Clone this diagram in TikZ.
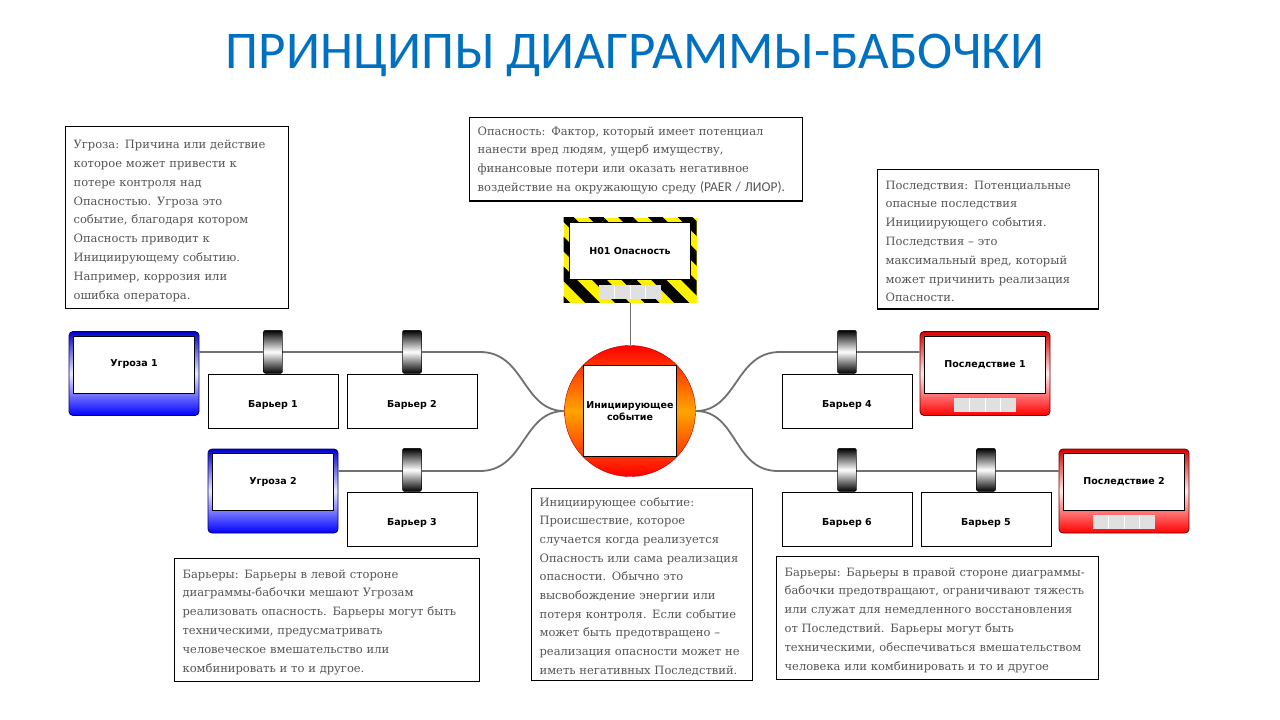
\documentclass[tikz,border=0pt]{standalone}
\usepackage{fontspec}
\setmainfont{DejaVu Serif}
\setsansfont{DejaVu Sans}
\newfontfamily\titlefont{Carlito}
\usetikzlibrary{positioning, calc, patterns.meta}

\definecolor{titleblue}{HTML}{0070C0}
\definecolor{linkgray}{HTML}{707070}
\definecolor{notegray}{HTML}{555555}
\definecolor{evorange}{HTML}{FFA500}

\begin{document}
\begin{tikzpicture}[
    x=1pt, y=-1pt,
    note/.style={draw, line width=1.2pt, fill=white, anchor=north west, align=left,
      inner xsep=8pt, inner ysep=7pt, text=notegray,
      font=\fontsize{11.5}{18.8}\selectfont, execute at begin node={\rule{0pt}{#1}}},
    note/.default=12.5pt,
    boxtext/.style={font=\sffamily\bfseries\fontsize{9.5}{12}\selectfont, align=center},
    tilebox/.style={rounded corners=4pt, minimum width=130pt, minimum height=84pt, line width=0.8pt},
    threat/.style={tilebox, draw=blue!40!black, top color=blue!80!black, bottom color=blue, middle color=blue!8},
    conseq/.style={tilebox, draw=red!40!black, top color=red!85!black, bottom color=red, middle color=red!8},
    hazard/.style={minimum width=133pt, minimum height=85pt, fill=yellow,
      postaction={pattern={Lines[angle=-45, distance=21pt, line width=10.5pt]}, pattern color=black}},
    inbox/.style={boxtext, draw, line width=0.8pt, fill=white, minimum width=121pt, minimum height=57pt, inner sep=0pt},
    barrier/.style={boxtext, draw, line width=0.8pt, fill=white, minimum width=130pt, minimum height=54pt,
      text height=12pt, text depth=0pt},
    barrel/.style={draw, line width=0.5pt, rounded corners=2pt, minimum width=19pt, minimum height=43pt,
      inner sep=0pt, top color=black, bottom color=black, middle color=white},
    cellrow/.style={fill=black!12, minimum width=62pt, minimum height=14pt, inner sep=0pt,
      path picture={\foreach \k in {1,2,3}
        \draw[white, line width=1pt] ([xshift=\k*15.5pt]path picture bounding box.north west)
          -- ([xshift=\k*15.5pt]path picture bounding box.south west);}},
    topevent/.style={circle, draw=red!70!black, minimum size=131pt, top color=red, bottom color=red, middle color=evorange},
    link/.style={draw=linkgray, line width=1.8pt},
    stemline/.style={draw=linkgray, line width=1pt}]

  \path[fill=white, use as bounding box] (0, 0) rectangle (1280, 720);

  % title
  \node[font=\titlefont\fontsize{53}{60}\selectfont, text=titleblue] at (635, 55) (title)
    {ПРИНЦИПЫ ДИАГРАММЫ-БАБОЧКИ};

  % hazard and top event
  \node[hazard] at (630, 260) (hz) {};
  \node[inbox, below=5pt of hz.north] (hz-in) {H01 Опасность};
  \node[cellrow, below=5pt of hz-in] (hz-cells) {};

  \node[topevent] at (630, 411) (ie) {};
  \node[inbox, minimum width=93pt, minimum height=91pt] at (ie.center) (ie-in) {Инициирующее\\событие};
  \draw[stemline] (hz.south) -- (ie.north);

  % threats
  \node[threat] at (134, 373.5) (t1) {};
  \node[inbox, below=4.5pt of t1.north] (t1-in) {Угроза 1};
  \node[threat] at (273, 491) (t2) {};
  \node[inbox, below=4.5pt of t2.north] (t2-in) {Угроза 2};

  % consequences
  \node[conseq] at (985, 373.5) (c1) {};
  \node[inbox, below=4.5pt of c1.north] (c1-in) {Последствие 1};
  \node[cellrow, below=4pt of c1-in] (c1-cells) {};
  \node[conseq] at (1124, 491) (c2) {};
  \node[inbox, below=4.5pt of c2.north] (c2-in) {Последствие 2};
  \node[cellrow, below=4pt of c2-in] (c2-cells) {};

  % barriers
  \node[barrier] at (273, 401) (b1) {Барьер 1};
  \node[barrier] at (412, 401) (b2) {Барьер 2};
  \node[barrier] at (412, 519) (b3) {Барьер 3};
  \node[barrier] at (847, 401) (b4) {Барьер 4};
  \node[barrier] at (986, 519) (b5) {Барьер 5};
  \node[barrier] at (847, 519) (b6) {Барьер 6};

  % lines
  \coordinate (jl1) at (480, 352);
  \coordinate (jl2) at (480, 471);
  \coordinate (jr1) at (780, 352);
  \coordinate (jr2) at (778, 471);
  \draw[link] (t1.east |- jl1) -- (jl1) .. controls +(45pt, 0) and +(-42pt, 0) .. (ie.west);
  \draw[link] (t2.east |- jl2) -- (jl2) .. controls +(45pt, 0) and +(-42pt, 0) .. (ie.west);
  \draw[link] (c1.west |- jr1) -- (jr1) .. controls +(-45pt, 0) and +(42pt, 0) .. (ie.east);
  \draw[link] (c2.west |- jr2) -- (jr2) .. controls +(-45pt, 0) and +(42pt, 0) .. (ie.east);

  \foreach \b in {b1, b2, b3, b4, b5, b6}
    \node[barrel, above=0pt of \b] (\b-bar) {};

  % notes
  \node[note=15pt, text width=207pt] at (65, 126) (n-threat) {Угроза: Причина или действие\\
    которое может привести к\\
    потере контроля над\\
    Опасностью. Угроза это\\
    событие, благодаря котором\\
    Опасность приводит к\\
    Инициирующему событию.\\
    Например, коррозия или\\
    ошибка оператора.};
  \node[note=10.5pt, text width=317pt] at (469, 117) (n-hazard) {Опасность: Фактор, который имеет потенциал\\
    нанести вред людям, ущерб имуществу,\\
    финансовые потери или оказать негативное\\
    воздействие на окружающую среду {\titlefont\fontsize{13.5}{18.8}\selectfont (PAER / ЛИОР).}};
  \node[note, text width=205pt] at (877, 169) (n-conseq) {Последствия: Потенциальные\\
    опасные последствия\\
    Инициирующего события.\\
    Последствия – это\\
    максимальный вред, который\\
    может причинить реализация\\
    Опасности.};
  \node[note, text width=289pt] at (174, 558) (n-left) {Барьеры: Барьеры в левой стороне\\
    диаграммы-бабочки мешают Угрозам\\
    реализовать опасность. Барьеры могут быть\\
    техническими, предусматривать\\
    человеческое вмешательство или\\
    комбинировать и то и другое.};
  \node[note, text width=205pt, inner ysep=5pt, font=\fontsize{11.5}{18.67}\selectfont] at (531, 488) (n-event)
    {Инициирующее событие:\\
    Происшествие, которое\\
    случается когда реализуется\\
    Опасность или сама реализация\\
    опасности. Обычно это\\
    высвобождение энергии или\\
    потеря контроля. Если событие\\
    может быть предотвращено –\\
    реализация опасности может не\\
    иметь негативных Последствий.};
  \node[note, text width=306pt] at (776, 556) (n-right) {Барьеры: Барьеры в правой стороне диаграммы-\\
    бабочки предотвращают, ограничивают тяжесть\\
    или служат для немедленного восстановления\\
    от Последствий. Барьеры могут быть\\
    техническими, обеспечиваться вмешательством\\
    человека или комбинировать и то и другое};
\end{tikzpicture}
\end{document}
